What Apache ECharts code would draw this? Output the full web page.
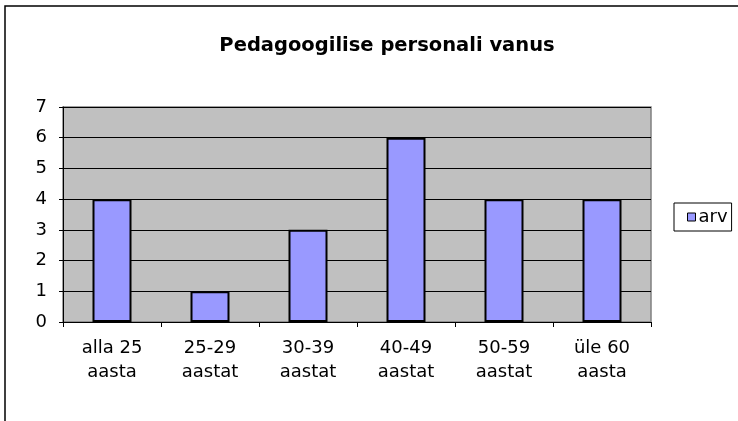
<!DOCTYPE html>
<html>
<head>
<meta charset="utf-8">
<script src="https://cdn.jsdelivr.net/npm/echarts@6/dist/echarts.min.js"></script>
<style>
    html, body { margin: 0; padding: 0; background: #fff; }
    #container { width: 738px; height: 421px; }
</style>
</head>
<body>
<div id="container"></div>
<script>
// Pedagoogilise personali vanus
const categories = ['alla 25\naasta', '25-29\naastat', '30-39\naastat', '40-49\naastat', '50-59\naastat', 'üle 60\naasta']
const arv = [4, 1, 3, 6, 4, 4]
const yTicks = [0, 1, 2, 3, 4, 5, 6, 7]

const font = 'DejaVu Sans'
let myChart = echarts.init(document.getElementById('container'))
let option = {
    animation: false,
    textStyle: { fontFamily: font },
    // 外框（只露出上边和左边）
    graphic: [
        {
            type: 'rect',
            shape: { x: 5, y: 6, width: 800, height: 500 },
            style: { fill: 'none', stroke: '#000', lineWidth: 1.5 },
            silent: true,
        },
    ],
    title: {
        text: 'Pedagoogilise personali vanus',
        left: 382,
        top: 31,
        textAlign: 'center',
        textStyle: { fontFamily: font, fontSize: 19.5, fontWeight: 'bold', color: '#000' },
    },
    legend: {
        data: ['arv'],
        orient: 'vertical',
        left: 674,
        top: 203,
        padding: [5, 4, 5, 13],
        borderColor: '#000',
        borderWidth: 1,
        itemWidth: 8,
        itemHeight: 8,
        icon: 'rect',
        itemStyle: { color: '#9999FF', borderColor: '#000', borderWidth: 1 },
        textStyle: { fontFamily: font, fontSize: 18, color: '#000', padding: [0, 0, 0, -2] },
    },
    grid: {
        show: true,
        left: 63,
        right: 87,
        top: 107,
        bottom: 99,
        backgroundColor: '#C0C0C0',
        borderColor: '#808080',
        borderWidth: 1.5,
    },
    xAxis: {
        type: 'category',
        data: categories,
        axisLine: { lineStyle: { color: '#000', width: 1 } },
        axisTick: { show: true, length: 5, lineStyle: { color: '#000' } },
        axisLabel: {
            color: '#000',
            fontFamily: font,
            fontSize: 18,
            lineHeight: 24,
            margin: 14,
            interval: 0,
        },
    },
    yAxis: {
        type: 'value',
        min: yTicks[0],
        max: yTicks[yTicks.length - 1],
        interval: 1,
        axisLine: { show: true, lineStyle: { color: '#000', width: 1 } },
        axisTick: { show: true, length: 4, lineStyle: { color: '#000' } },
        splitLine: { show: true, lineStyle: { color: '#000', width: 1 } },
        axisLabel: { color: '#000', fontFamily: font, fontSize: 18, margin: 16 },
    },
    series: [
        {
            name: 'arv',
            type: 'bar',
            data: arv,
            barWidth: 39,
            itemStyle: { color: '#9999FF', borderColor: '#000', borderWidth: 2 },
        },
    ],
}
myChart.setOption(option)
</script>
</body>
</html>
